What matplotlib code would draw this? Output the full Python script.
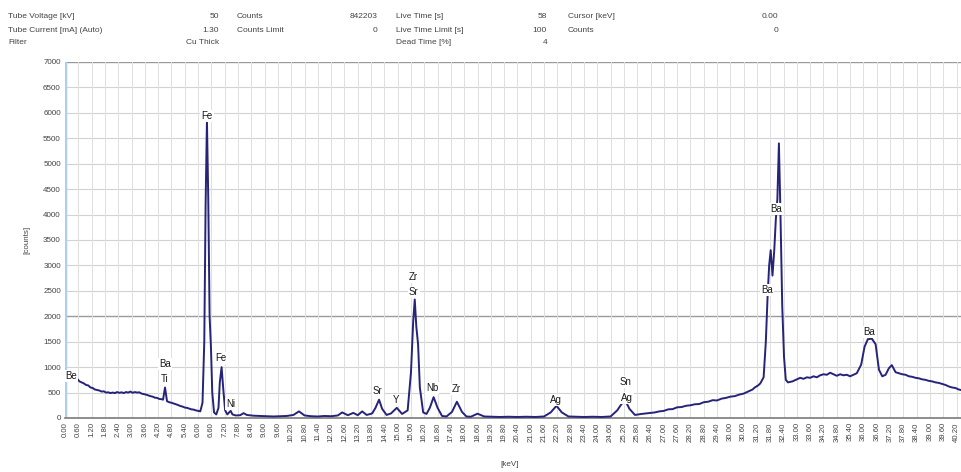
import matplotlib
matplotlib.use("Agg")
import matplotlib.pyplot as plt

plt.rcParams['font.family'] = ['Liberation Sans', 'DejaVu Sans']

# ---- spectrum (energy in keV, counts) ----
energy_kev = [
    # low-energy background, Ti
    0.35, 0.45, 0.55, 0.65, 0.75, 0.85, 0.95, 1.05, 1.15, 1.25,
    1.35, 1.45, 1.55, 1.65, 1.75, 1.85, 1.95, 2.05, 2.15, 2.25,
    2.35, 2.45, 2.55, 2.65, 2.75, 2.85, 2.95, 3.05, 3.15, 3.25,
    3.35, 3.45, 3.55, 3.65, 3.75, 3.85, 3.95, 4.05, 4.15, 4.25,
    4.35, 4.42, 4.51, 4.6, 4.7, 4.8, 4.9, 5.0, 5.1, 5.2,
    5.3, 5.4, 5.5, 5.6, 5.7, 5.8, 5.9, 6.0, 6.1,
    # Fe / Ni
    6.2, 6.28, 6.34, 6.40, 6.46, 6.52, 6.58, 6.64, 6.72, 6.82, 6.92, 6.98, 7.06, 7.14,
    7.22, 7.32, 7.40, 7.47, 7.55, 7.7, 7.9,
    # 8 - 14 keV
    8.05, 8.2, 8.5, 8.8, 9.1, 9.4, 9.7, 10.0, 10.3, 10.55, 10.8, 11.1, 11.4, 11.7, 12.0,
    12.3, 12.5, 12.75, 13.0, 13.2, 13.4, 13.6, 13.85,
    # Sr / Y / Zr / Nb
    14.0, 14.16, 14.3, 14.5, 14.7, 14.96, 15.2, 15.45, 15.6, 15.7, 15.77, 15.84, 15.92,
    16.0, 16.15, 16.3, 16.45, 16.62, 16.8, 17.0, 17.2, 17.45, 17.67, 17.9, 18.1, 18.3,
    18.6, 18.9, 19.2, 19.6,
    # Ag / Sn
    20.0, 20.4, 20.8, 21.2, 21.6, 21.9, 22.16, 22.4, 22.7, 23.0, 23.4, 23.8, 24.2, 24.6,
    24.9, 25.1, 25.27, 25.45, 25.7, 26.0,
    # rising background
    26.2, 26.4, 26.6, 26.8, 27.0, 27.2, 27.4, 27.6, 27.8, 28.0,
    28.2, 28.4, 28.6, 28.8, 29.0, 29.2, 29.4, 29.6, 29.8, 30.0,
    30.2, 30.4, 30.6, 30.8, 31.0, 31.1, 31.25, 31.35, 31.5,
    # Ba K-alpha
    31.6, 31.68, 31.75, 31.82, 31.9, 31.98, 32.05, 32.12, 32.19, 32.26, 32.34, 32.42,
    32.5, 32.6, 32.8,
    # Ba K-beta and tail
    33.0, 33.15, 33.3, 33.45, 33.6, 33.75, 33.9, 34.05, 34.2, 34.35,
    34.5, 34.65, 34.8, 34.95, 35.1, 35.25, 35.4, 35.55, 35.7, 35.9,
    36.05, 36.2, 36.38, 36.55, 36.7, 36.85, 37.0, 37.15, 37.28, 37.45,
    37.6, 37.75, 37.9, 38.05, 38.2, 38.35, 38.5, 38.65, 38.8, 38.95,
    39.1, 39.25, 39.4, 39.55, 39.7, 39.85, 40.0, 40.15, 40.3, 40.4,
]
counts = [
    820, 780, 770, 720, 700, 680, 650, 640, 600, 590,
    560, 550, 540, 520, 525, 500, 505, 490, 500, 490,
    510, 495, 505, 490, 510, 500, 520, 495, 510, 500,
    505, 480, 470, 460, 445, 430, 420, 400, 395, 375,
    370, 360, 600, 330, 310, 300, 285, 270, 255, 235,
    225, 205, 200, 185, 170, 165, 150, 140, 130,
    300, 1500, 4200, 5850, 4300, 2000, 1400, 500, 110, 70, 200, 700, 1000, 550,
    150, 70, 110, 140, 70, 50, 55,
    95, 60, 45, 40, 35, 30, 35, 40, 60, 130, 50, 35, 30, 40, 35,
    50, 110, 55, 100, 55, 130, 60, 90,
    200, 360, 180, 60, 90, 200, 80, 150, 900, 1900, 2330, 1800, 1450,
    600, 110, 80, 200, 410, 200, 40, 30, 120, 320, 120, 30, 25,
    85, 30, 25, 20,
    25, 20, 25, 20, 30, 110, 240, 110, 30, 25, 20, 25, 20, 30,
    150, 280, 340, 180, 60, 80,
    90, 100, 110, 130, 140, 170, 175, 210, 215, 240,
    250, 270, 275, 310, 320, 350, 345, 380, 395, 420,
    430, 460, 480, 520, 560, 600, 640, 680, 800,
    1500, 2400, 3000, 3300, 2800, 3300, 3900, 4300, 5400, 4000, 2200, 1200,
    750, 700, 720,
    760, 790, 770, 800, 790, 820, 800, 840, 860, 850,
    890, 860, 830, 860, 840, 850, 820, 850, 880, 1050,
    1400, 1550, 1560, 1450, 950, 820, 850, 980, 1040, 900,
    880, 860, 850, 820, 810, 790, 780, 760, 750, 730,
    720, 700, 690, 670, 650, 620, 600, 590, 560, 550,
]

# ---- peak annotations ----
peak_names = ["Be", "Ba", "Ti", "Fe", "Fe", "Ni", "Sr", "Y", "Zr", "Sr", "Nb", "Zr",
              "Ag", "Sn", "Ag", "Ba", "Ba", "Ba"]
peak_label_kev = [0.27, 4.51, 4.51, 6.40, 7.03, 7.48, 14.11, 14.92, 15.69, 15.73, 16.55,
                  17.63, 22.14, 25.25, 25.34, 31.65, 32.06, 36.25]
peak_label_counts = [826, 1060, 767, 5940, 1180, 275, 530, 354, 2772, 2477, 590, 570,
                     354, 708, 393, 2516, 4109, 1690]

# ---- acquisition header ----
header_rows = [
    [("Tube Voltage [kV]", "50"), ("Counts", "842203"), ("Live Time [s]", "58"), ("Cursor [keV]", "0.00")],
    [("Tube Current [mA] (Auto)", "1.30"), ("Counts Limit", "0"), ("Live Time Limit [s]", "100"), ("Counts", "0")],
    [("Filter", "Cu Thick"), ("", ""), ("Dead Time [%]", "4"), ("", "")],
]
header_label_x = [8, 237, 396, 568]
header_value_x = [219, 377, 547, 778]
header_row_y = [17, 30, 43]

cursor_kev = 0.00
x_ticks = [round(0.6 * i, 2) for i in range(68)]
y_ticks = list(range(0, 7001, 500))

W, H = 961, 472
fig = plt.figure(figsize=(W / 100, H / 100), dpi=100)
fig.patch.set_facecolor("white")
ax = fig.add_axes([65 / W, 1 - 418 / H, (W - 65) / W, (418 - 62) / H])

ax.set_xlim(0, 40.4)
ax.set_ylim(0, 7000)

# grid
for yt in y_ticks[1:]:
    strong = yt in (2000, 7000)
    ax.axhline(yt, color="#9a9a9a" if strong else "#d2d2d2", lw=1.0 if strong else 0.8, zorder=0)
for xt in x_ticks[1:]:
    ax.axvline(xt, color="#e0e0e0", lw=0.7, zorder=0)

# cursor line
ax.axvline(cursor_kev, color="#a9cff2", lw=2.5, zorder=1)

# spectrum
ax.plot(energy_kev, counts, color="#25237a", lw=1.4, zorder=3, solid_joinstyle="round")

for name, ex, cy in zip(peak_names, peak_label_kev, peak_label_counts):
    ax.text(ex, cy, name, ha="center", va="center", fontsize=7, color="#1a1a1a", zorder=4,
            bbox=dict(boxstyle="square,pad=0.1", facecolor="white", edgecolor="none"))

# axes styling
for side in ("top", "right", "left"):
    ax.spines[side].set_visible(False)
ax.spines["bottom"].set_color("#7a7a7a")
ax.spines["bottom"].set_linewidth(1.2)

ax.set_xticks(x_ticks)
ax.set_xticklabels([f"{v:.2f}" for v in x_ticks], rotation=90, fontsize=5.6, color="#444444")
ax.set_yticks(y_ticks)
ax.set_yticklabels([str(v) for v in y_ticks], fontsize=5.8, color="#444444")
ax.tick_params(axis="both", length=0, pad=3)

fig.text(27 / W, 1 - 240 / H, "[counts]", rotation=90, ha="center", va="center",
         fontsize=5.8, color="#444444")
fig.text(510 / W, 1 - 464 / H, "[keV]", ha="center", va="center", fontsize=5.8, color="#444444")

for row, ry in zip(header_rows, header_row_y):
    for (lab, val), lx, vx in zip(row, header_label_x, header_value_x):
        if lab:
            fig.text(lx / W, 1 - ry / H, lab, ha="left", va="center", fontsize=6, color="#444444")
        if val:
            fig.text(vx / W, 1 - ry / H, val, ha="right", va="center", fontsize=6, color="#444444")

fig.savefig("out.png", dpi=100, facecolor="white")
